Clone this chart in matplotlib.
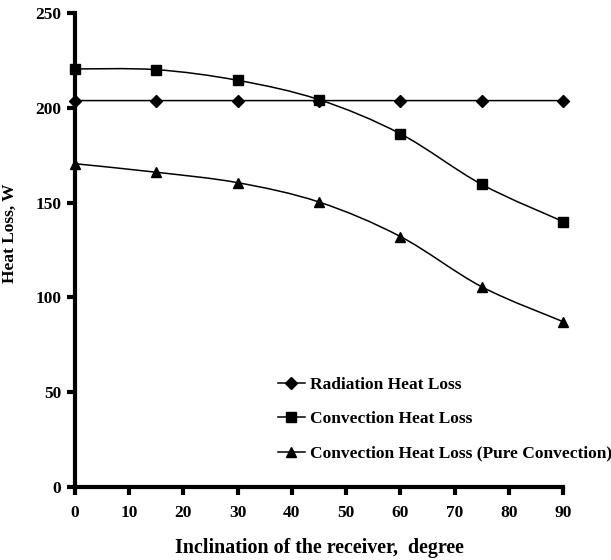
import numpy as np
import matplotlib
matplotlib.use('Agg')
import matplotlib.pyplot as plt
from matplotlib.path import Path
from matplotlib.patches import PathPatch
from matplotlib.lines import Line2D

# Inclination angles and heat loss values (W)
inclination = [0, 15, 30, 45, 60, 75, 90]
radiation = [203.8, 203.8, 203.8, 203.8, 203.8, 203.8, 203.8]
convection = [220.5, 220.1, 214.5, 204.3, 186.3, 159.6, 140.0]
pure_convection = [170.5, 166.0, 160.5, 150.3, 132.1, 105.6, 87.2]

plt.rcParams['font.family'] = 'Liberation Serif'
plt.rcParams['font.weight'] = 'bold'


def smooth_path(x, y):
    # Catmull-Rom style bezier segments, like a spreadsheet "smoothed line"
    pts = np.column_stack([x, y]).astype(float)
    ext = np.vstack([pts[0], pts, pts[-1]])
    verts = [pts[0]]
    codes = [Path.MOVETO]
    for i in range(1, len(ext) - 2):
        p0, p1, p2, p3 = ext[i - 1], ext[i], ext[i + 1], ext[i + 2]
        c1 = p1 + (p2 - p0) / 6.0
        c2 = p2 - (p3 - p1) / 6.0
        verts += [c1, c2, p2]
        codes += [Path.CURVE4] * 3
    return Path(verts, codes)


fig = plt.figure(figsize=(6.11, 5.6), dpi=100)
ax = fig.add_axes([0.1227, 0.1304, 0.7988, 0.8464])

series = [
    (radiation, 'D', 6, 'Radiation Heat Loss'),
    (convection, 's', 7.5, 'Convection Heat Loss'),
    (pure_convection, '^', 7.5, 'Convection Heat Loss (Pure Convection)'),
]

handles = []
for vals, mk, ms, name in series:
    ax.add_patch(PathPatch(smooth_path(inclination, vals), facecolor='none',
                           edgecolor='black', lw=1.1, zorder=2))
    ax.plot(inclination, vals, linestyle='none', marker=mk, markersize=ms,
            color='black', clip_on=False, zorder=3)
    handles.append(Line2D([], [], color='black', lw=1.1, marker=mk,
                          markersize=ms, label=name))

ax.set_xlim(0, 90)
ax.set_ylim(0, 250)
ax.set_xticks(np.arange(0, 91, 10))
ax.set_yticks(np.arange(0, 251, 50))

for side in ['top', 'right']:
    ax.spines[side].set_visible(False)
for side in ['left', 'bottom']:
    ax.spines[side].set_linewidth(3)
ax.tick_params(axis='both', direction='out', length=6, width=3,
               labelsize=12.5)
ax.tick_params(axis='x', pad=7)
ax.tick_params(axis='y', pad=4)

ax.set_xlabel('Inclination of the receiver,  degree', fontsize=14.4,
              fontweight='bold', labelpad=12)
ax.set_ylabel('Heat Loss, W', fontsize=12.5, fontweight='bold')
ax.yaxis.set_label_coords(-0.116, 0.536)

fig.legend(handles=handles, loc='upper left',
           bbox_to_anchor=(0.4550, 0.327), frameon=False, fontsize=12.5,
           handlelength=1.55, handletextpad=0.3, labelspacing=1.05,
           borderpad=0, borderaxespad=0)

fig.savefig('out.png', dpi=100)
